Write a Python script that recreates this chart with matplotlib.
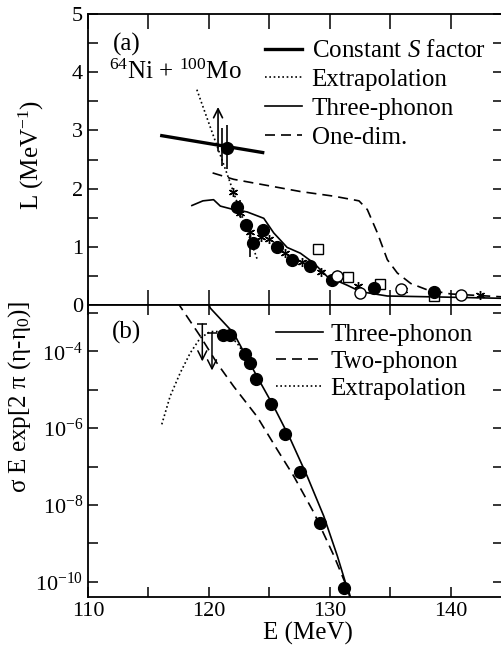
import numpy as np
import matplotlib
matplotlib.use('Agg')
import matplotlib.pyplot as plt
from matplotlib.lines import Line2D

plt.rcParams['font.family'] = 'Liberation Serif'
plt.rcParams['mathtext.fontset'] = 'custom'
plt.rcParams['mathtext.rm'] = 'Liberation Serif'
plt.rcParams['mathtext.it'] = 'Liberation Serif:italic'
plt.rcParams['axes.unicode_minus'] = False

# ---- panel (a): L(E) ----
E_fill_a = [121.45, 122.35, 123.05, 123.6, 124.5, 125.63, 126.88, 128.34, 130.19, 133.64, 138.61]
L_fill_a = [2.70, 1.68, 1.38, 1.07, 1.29, 0.99, 0.78, 0.67, 0.43, 0.30, 0.22]

E_open_a = [130.6, 132.5, 135.85, 140.82]
L_open_a = [0.50, 0.20, 0.27, 0.17]
Lerr_open_a = [0.10, 0.07, 0.06, 0.05]

E_sq_a = [129.0, 131.48, 134.13, 138.6]
L_sq_a = [0.96, 0.48, 0.36, 0.155]

E_star_a = [121.96, 122.6, 123.4, 124.3, 125.0, 126.3, 127.7, 129.3, 130.6, 132.3, 136.0, 142.4]
L_star_a = [1.94, 1.58, 1.25, 1.17, 1.13, 0.89, 0.74, 0.56, 0.44, 0.33, 0.26, 0.17]

# vertical error bars (E, low, high)
E_bar_a = [121.05, 121.45, 122.6, 123.4]
Llo_bar_a = [2.39, 2.33, 1.52, 0.82]
Lhi_bar_a = [3.05, 3.10, 1.80, 1.32]

# lower limit arrow
E_lim_a = 120.75
L_lim_a = (2.60, 3.45)

E_S = [116.1, 124.44]
L_S = [2.91, 2.62]

E_ext_a = [119.0, 121.5, 124.0]
L_ext_a = [3.70, 2.25, 0.78]

E_3ph_a = [118.59, 119.5, 120.38, 120.94, 122.04, 123.15, 124.53, 125.35, 126.46, 127.56,
           128.67, 129.77, 131.43, 132.53, 134.74, 138.6, 144.3]
L_3ph_a = [1.71, 1.79, 1.81, 1.70, 1.64, 1.60, 1.49, 1.24, 0.99, 0.89,
           0.72, 0.49, 0.34, 0.23, 0.155, 0.14, 0.115]

E_1d = [120.3, 122.04, 127.56, 130.32, 132.4, 133.09, 133.92, 134.74, 135.57, 136.68, 138.05, 139.99, 144.3]
L_1d = [2.27, 2.16, 1.95, 1.87, 1.79, 1.64, 1.24, 0.78, 0.55, 0.37, 0.26, 0.19, 0.14]

# ---- panel (b): sigma E exp[2 pi (eta - eta0)] ----
E_fill_b = [121.16, 121.77, 122.95, 123.36, 123.92, 125.14, 126.27, 127.51, 129.17, 131.16]
S_fill_b = [2.7e-4, 2.7e-4, 8.7e-5, 5.1e-5, 1.95e-5, 4.3e-6, 6.9e-7, 7.4e-8, 3.3e-9, 6.8e-11]

E_3ph_b = [119.9, 120.11, 122.04, 123.98, 125.35, 126.74, 128.12, 129.49, 130.6, 131.57, 131.8]
S_3ph_b = [2.0e-3, 1.35e-3, 3.0e-4, 2.2e-5, 3.7e-6, 5.1e-7, 5.6e-8, 5.1e-9, 4.8e-10, 4.8e-11, 2.5e-11]

E_2ph_b = [117.4, 117.62, 119.28, 120.66, 122.04, 123.98, 125.63, 127.01, 128.67, 130.32, 131.57, 131.8]
S_2ph_b = [2.0e-3, 1.5e-3, 2.5e-4, 5.0e-5, 1.23e-5, 2.0e-6, 2.8e-7, 5.6e-8, 6.3e-9, 4.8e-10, 5.4e-11, 3.0e-11]

E_ext_b = [116.1, 116.79, 117.62, 118.45, 119.28, 120.11, 120.94, 121.6, 122.32, 123.15]
S_ext_b = [1.26e-6, 6.8e-6, 2.75e-5, 9.1e-5, 2.24e-4, 3.3e-4, 3.3e-4, 2.7e-4, 1.66e-4, 6.8e-5]

# upper limits (E, value, arrow tip)
E_ul_b = [119.45, 120.25]
S_ul_b = [5.2e-4, 3.1e-4]
S_ul_tip_b = [5.5e-5, 3.2e-5]

yt_b = [1e-10, 1e-8, 1e-6, 1e-4]
yt_minor_b = [1e-9, 1e-7, 1e-5, 1e-3]

dotted = (0, (1, 1.6))
dashed = (0, (6, 3.6))

fig = plt.figure(figsize=(5.01, 6.49), dpi=100)
axa = fig.add_axes([0.1756, 0.5300, 0.8283, 0.4484])
axb = fig.add_axes([0.1756, 0.0801, 0.8283, 0.4499])

for ax in (axa, axb):
    for s in ax.spines.values():
        s.set_linewidth(1.3)
    ax.tick_params(which='both', direction='in', top=True, right=True, width=1.1,
                   labelsize=16)
    ax.tick_params(which='major', length=7)
    ax.tick_params(which='minor', length=7)
    ax.set_xlim(110, 144.3)
    ax.set_xticks([110, 120, 130, 140])
    ax.set_xticks([115, 125, 135], minor=True)

axa.tick_params(axis='x', which='both', length=11, labelbottom=False)

# panel (a)
axa.plot(E_3ph_a, L_3ph_a, color='k', lw=1.2)
axa.plot(E_1d, L_1d, color='k', lw=1.2, ls=dashed)
axa.plot(E_ext_a, L_ext_a, color='k', lw=1.2, ls=dotted)
axa.plot(E_S, L_S, color='k', lw=2.4)
axa.vlines(E_bar_a, Llo_bar_a, Lhi_bar_a, color='k', lw=1.2)
axa.annotate('', xy=(E_lim_a, L_lim_a[1]), xytext=(E_lim_a, L_lim_a[0]),
             arrowprops=dict(arrowstyle='->', lw=1.2, color='k', mutation_scale=16))
axa.errorbar(E_open_a, L_open_a, yerr=Lerr_open_a, fmt='o', ms=8, mfc='white',
             mec='k', mew=1.0, ecolor='k', elinewidth=1.0, capsize=0)
axa.plot(E_sq_a, L_sq_a, 's', ms=7.5, mfc='white', mec='k', mew=1.0)
axa.plot(E_star_a, L_star_a, ls='none', marker=(6, 2, 0), ms=6.5, color='k', mew=1.0)
axa.plot(E_fill_a, L_fill_a, 'o', ms=8.5, color='k')

axa.set_ylim(0, 5)
axa.set_yticks([0, 1, 2, 3, 4, 5])
axa.set_yticks(np.arange(0.5, 5, 1.0), minor=True)
axa.set_ylabel('L (MeV$^{-1}$)', fontsize=18)
axa.yaxis.set_label_coords(-0.101, 0.515)

axa.text(113.2, 4.48, '(a)', fontsize=18, ha='center', va='center')
axa.text(117.2, 4.0, '$^{64}$Ni + $^{100}$Mo', fontsize=18, ha='center', va='center')

handles_a = [Line2D([], [], color='k', lw=2.4),
             Line2D([], [], color='k', lw=1.2, ls=dotted),
             Line2D([], [], color='k', lw=1.2),
             Line2D([], [], color='k', lw=1.2, ls=dashed)]
labels_a = ['Constant $S$ factor', 'Extrapolation', 'Three-phonon', 'One-dim.']
axa.legend(handles_a, labels_a, loc='upper left', bbox_to_anchor=(0.4275, 0.911),
           frameon=False, fontsize=18, handlelength=1.45, handletextpad=0.4,
           labelspacing=0.25, borderpad=0, borderaxespad=0)

# panel (b)
axb.set_yscale('log')
axb.plot(E_3ph_b, S_3ph_b, color='k', lw=1.2)
axb.plot(E_2ph_b, S_2ph_b, color='k', lw=1.2, ls=dashed)
axb.plot(E_ext_b, S_ext_b, color='k', lw=1.2, ls=dotted)
for e, s, t in zip(E_ul_b, S_ul_b, S_ul_tip_b):
    axb.annotate('', xy=(e, t), xytext=(e, s),
                 arrowprops=dict(arrowstyle='->', lw=1.1, color='k', mutation_scale=16,
                                 shrinkA=0, shrinkB=0))
axb.plot(E_ul_b, S_ul_b, ls='none', marker='_', ms=7, mew=1.1, color='k')
axb.plot(E_fill_b, S_fill_b, 'o', ms=8.5, color='k')

axb.set_ylim(10 ** -10.4, 10 ** -2.79)
axb.set_yticks(yt_b)
axb.set_yticks(yt_minor_b, minor=True)
axb.set_yticklabels(['10$^{%d}$' % int(np.log10(v)) for v in yt_b])
axb.tick_params(axis='y', which='minor', labelleft=False)
axb.tick_params(axis='x', which='both', length=7)
axb.set_xlabel('E (MeV)', fontsize=18, labelpad=2)
axb.xaxis.set_label_coords(0.53, -0.085)
axb.set_ylabel('σ E exp[2 π (η-η$_0$)]', fontsize=18)
axb.yaxis.set_label_coords(-0.133, 0.685)

axb.text(113.2, 10 ** -3.51, '(b)', fontsize=18, ha='center', va='center')

handles_b = [Line2D([], [], color='k', lw=1.2),
             Line2D([], [], color='k', lw=1.2, ls=dashed),
             Line2D([], [], color='k', lw=1.2, ls=dotted)]
labels_b = ['Three-phonon', 'Two-phonon', 'Extrapolation']
axb.legend(handles_b, labels_b, loc='upper left', bbox_to_anchor=(0.454, 0.938),
           frameon=False, fontsize=18, handlelength=1.85, handletextpad=0.3,
           labelspacing=0.19, borderpad=0, borderaxespad=0)

fig.savefig('out.png', dpi=100)
